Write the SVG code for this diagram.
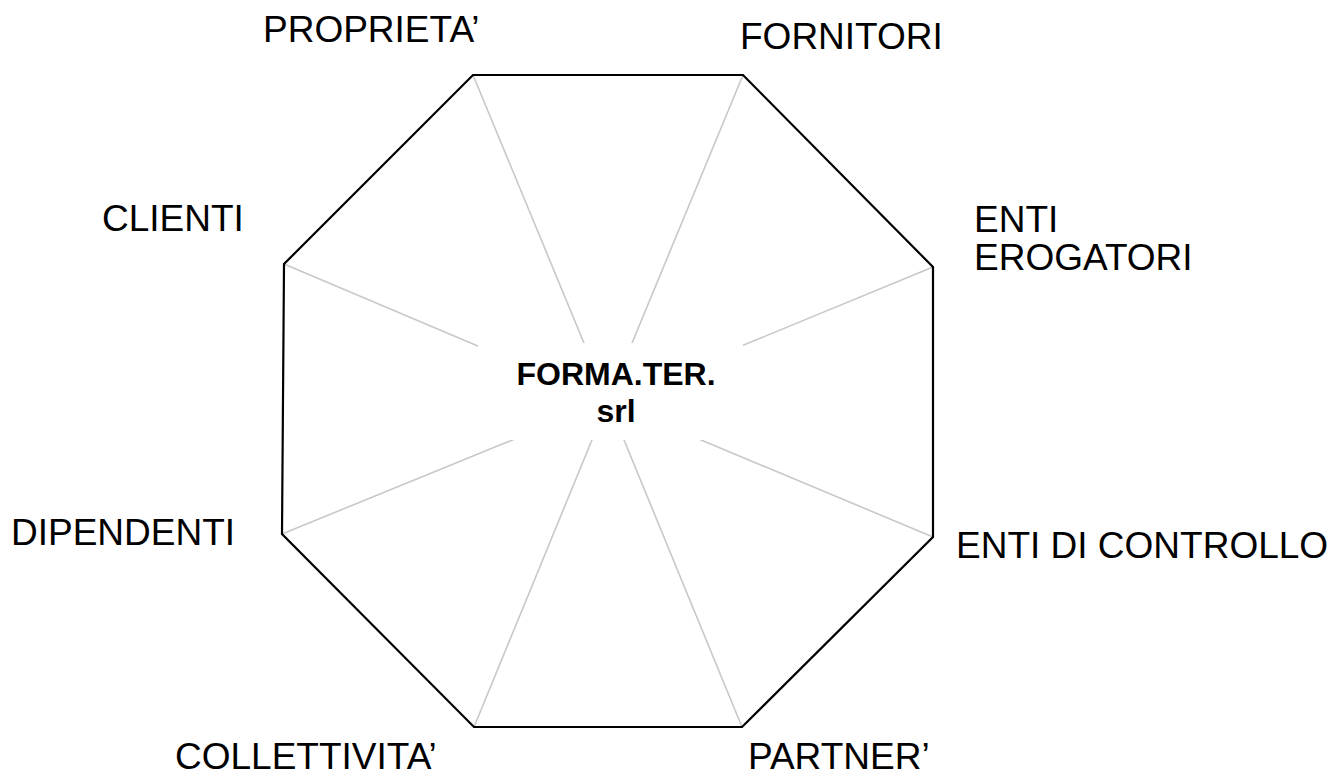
<svg xmlns="http://www.w3.org/2000/svg" width="1344" height="778" viewBox="0 0 1344 778">
<style>
.lbl{font-family:"Liberation Sans",Arial,sans-serif;font-size:37px;fill:#000}
.ctr{font-family:"Liberation Sans",Arial,sans-serif;font-size:32px;font-weight:bold;fill:#000;text-anchor:middle}
.spoke{stroke:#c8c8c8;stroke-width:1.6;fill:none}
.oct{stroke:#000;stroke-width:2.2;fill:none;stroke-linejoin:miter}
</style>
<rect width="1344" height="778" fill="#fff"/>
<g id="connectors">
<line class="spoke" x1="473" y1="75" x2="608" y2="401"/>
<line class="spoke" x1="743" y1="75" x2="608" y2="401"/>
<line class="spoke" x1="933" y1="267" x2="608" y2="401"/>
<line class="spoke" x1="933" y1="537" x2="608" y2="401"/>
<line class="spoke" x1="742" y1="727" x2="608" y2="401"/>
<line class="spoke" x1="474" y1="727" x2="608" y2="401"/>
<line class="spoke" x1="282" y1="534" x2="608" y2="401"/>
<line class="spoke" x1="284" y1="264" x2="608" y2="401"/>
</g>
<g id="octagon">
<polygon class="oct" points="473,75 743,75 933,267 933,537 742,727 474,727 282,534 284,264"/>
</g>
<g id="center">
<rect x="478" y="343" width="265" height="97" fill="#fff"/>
<text class="ctr" x="616" y="385">FORMA.TER.</text>
<text class="ctr" x="616" y="422">srl</text>
</g>
<g id="proprieta"><text class="lbl" x="263" y="42">PROPRIETA’</text></g>
<g id="fornitori"><text class="lbl" x="740" y="49">FORNITORI</text></g>
<g id="enti-erogatori"><text class="lbl" x="974" y="232">ENTI</text><text class="lbl" x="974" y="270">EROGATORI</text></g>
<g id="clienti"><text class="lbl" x="102" y="231">CLIENTI</text></g>
<g id="dipendenti"><text class="lbl" x="11" y="545">DIPENDENTI</text></g>
<g id="enti-controllo"><text class="lbl" x="956" y="558">ENTI DI CONTROLLO</text></g>
<g id="collettivita"><text class="lbl" x="175" y="769">COLLETTIVITA’</text></g>
<g id="partner"><text class="lbl" x="748" y="769">PARTNER’</text></g>
</svg>
